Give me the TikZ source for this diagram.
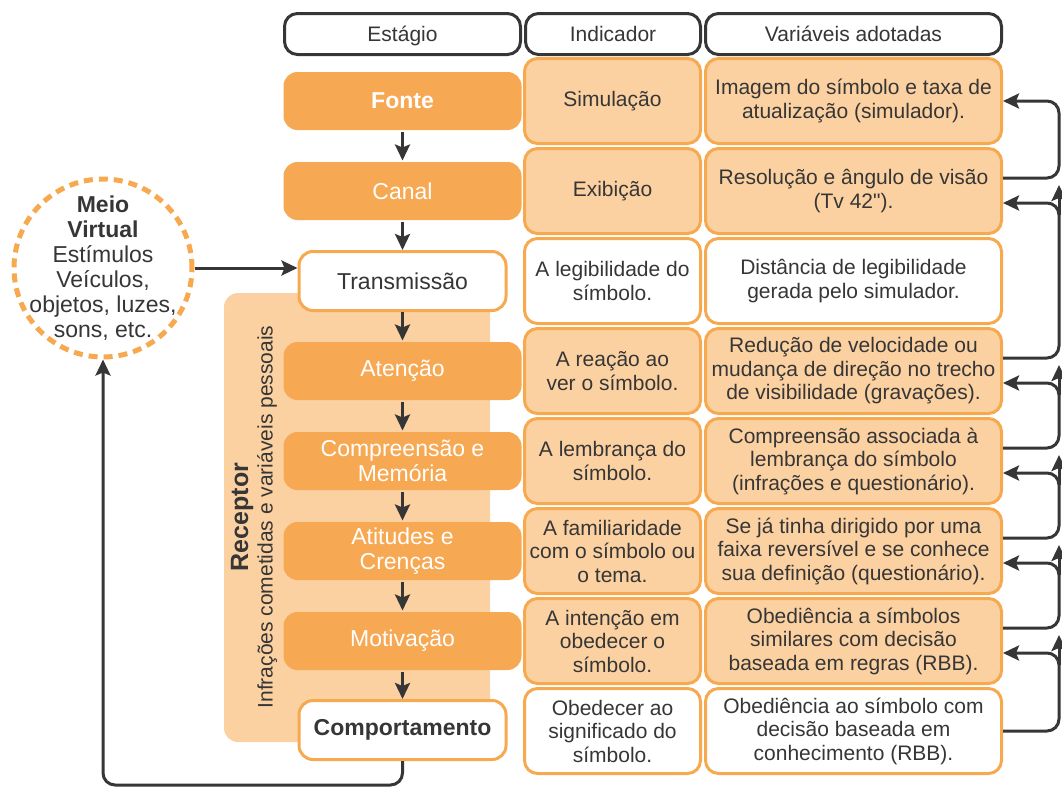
\documentclass[tikz,border=0pt]{standalone}
\usepackage{fontspec}
\setmainfont{Liberation Sans}
\newfontfamily\plainquote{Liberation Sans}
\usepackage{tikz}
\usetikzlibrary{arrows.meta, calc}
\definecolor{DarkOrange}{HTML}{F7A852}
\definecolor{LightOrange}{HTML}{FCD1A1}
\definecolor{EdgeOrange}{HTML}{F6A94F}
\definecolor{DarkGray}{HTML}{363636}

\begin{document}
\begin{tikzpicture}[x=1pt, y=-1pt, line width=3pt, >={Stealth[length=16pt, width=15pt, inset=3pt]},
		every node/.style={inner sep=0pt, align=center, text=DarkGray, font=\fontsize{21}{23.5}\selectfont},
		header/.style={draw=DarkGray, fill=white, rounded corners=13pt, minimum height=41pt, text height=15pt, text depth=0pt},
		stage/.style={fill=DarkOrange, text=white, rounded corners=14pt, minimum width=238pt, minimum height=58pt, font=\fontsize{23}{25}\selectfont},
		stagewhite/.style={draw=EdgeOrange, fill=white, rounded corners=14pt, minimum width=207pt, minimum height=59pt, font=\fontsize{23}{25}\selectfont},
		cell/.style={draw=EdgeOrange, fill=LightOrange, rounded corners=13pt, minimum height=85pt},
		ind/.style={cell, minimum width=176pt},
		var/.style={cell, minimum width=296pt},
		flow/.style={->, DarkGray}]
		\useasboundingbox (0,0) rectangle (1062,787);
		
		\node[header, minimum width=236pt] (hest) at (402.5,34) {Estágio};
		\node[header, minimum width=175pt] (hind) at (613,34) {Indicador};
		\node[header, minimum width=296pt] (hvar) at (853.5,34) {Variáveis adotadas};
		
		\fill[LightOrange, rounded corners=14pt] (224,293) rectangle (490,742);
		\node[rotate=90, font=\fontsize{25}{27}\selectfont\bfseries] (recep) at (242,517) {Receptor};
		\node[rotate=90] (infra) at (267,517) {Infrações cometidas e variáveis pessoais};
		
		\node[stage, font=\fontsize{23}{25}\selectfont\bfseries] (fonte) at (402.5,101) {Fonte};
		\node[stage] (canal) at (402.5,191) {Canal};
		\node[stagewhite] (trans) at (402.5,281) {Transmissão};
		\node[stage] (atenc) at (402.5,371) {Atenção};
		\node[stage] (compr) at (402.5,461) {Compreensão e\\Memória};
		\node[stage] (atit) at (402.5,551) {Atitudes e\\Crenças};
		\node[stage] (motiv) at (402.5,641) {Motivação};
		\node[stagewhite, font=\fontsize{23}{25}\selectfont\bfseries] (comp) at (402.5,730) {Comportamento};
		
		\draw[flow] (fonte) -- (canal);
		\draw[flow] (canal) -- (trans);
		\draw[flow] (trans) -- (atenc);
		\draw[flow] (atenc) -- (compr);
		\draw[flow] (compr) -- (atit);
		\draw[flow] (atit) -- (motiv);
		\draw[flow] (motiv) -- (comp);
		
		\node[ind] (i1) at (612.5,101) {Simulação};
		\node[ind] (i2) at (612.5,191) {Exibição};
		\node[ind, fill=white] (i3) at (612.5,281) {A legibilidade do\\símbolo.};
		\node[ind] (i4) at (612.5,371) {A reação ao\\ver o símbolo.};
		\node[ind] (i5) at (612.5,461) {A lembrança do\\símbolo.};
		\node[ind] (i6) at (612.5,551) {A familiaridade\\com o símbolo ou\\o tema.};
		\node[ind] (i7) at (612.5,641) {A intenção em\\obedecer o\\símbolo.};
		\node[ind, fill=white] (i8) at (612.5,731) {Obedecer ao\\significado do\\símbolo.};
		
		\node[var] (v1) at (853.5,101) {Imagem do símbolo e taxa de\\atualização (simulador).};
		\node[var] (v2) at (853.5,191) {Resolução e ângulo de visão\\(Tv 42{\plainquote"}).};
		\node[var, fill=white] (v3) at (853.5,281) {Distância de legibilidade\\gerada pelo simulador.};
		\node[var] (v4) at (853.5,371) {Redução de velocidade ou\\mudança de direção no trecho\\de visibilidade (gravações).};
		\node[var] (v5) at (853.5,461) {Compreensão associada à\\lembrança do símbolo\\(infrações e questionário).};
		\node[var] (v6) at (853.5,551) {Se já tinha dirigido por uma\\faixa reversível e se conhece\\sua definição (questionário).};
		\node[var] (v7) at (853.5,641) {Obediência a símbolos\\similares com decisão\\baseada em regras (RBB).};
		\node[var, fill=white] (v8) at (853.5,731) {Obediência ao símbolo com\\decisão baseada em\\conhecimento (RBB).};
		
		% feedback on the right
		\draw[flow, rounded corners=12pt] ($(v2.east)+(0,-13)$) -- ++(56,0) |- (v1.east);
		\draw[flow, rounded corners=12pt] ($(v4.east)+(0,-13)$) -- ++(56,0) |- ($(v2.east)+(0,12)$);
		\draw[flow, rounded corners=12pt] ($(v5.east)+(0,-13)$) -- ++(56,0) |- ($(v4.east)+(0,12)$);
		\draw[flow, rounded corners=12pt] ($(v6.east)+(0,-13)$) -- ++(56,0) |- ($(v5.east)+(0,12)$);
		\draw[flow, rounded corners=12pt] ($(v7.east)+(0,-13)$) -- ++(56,0) |- ($(v6.east)+(0,12)$);
		\draw[flow, rounded corners=12pt] (v8.east) -- ++(56,0) |- ($(v7.east)+(0,12)$);
		\draw[flow] ($(v2.east)+(56,24)$) -- ($(v2.east)+(56,-6)$);
		\draw[flow] ($(v4.east)+(56,24)$) -- ($(v4.east)+(56,-6)$);
		\draw[flow] ($(v5.east)+(56,24)$) -- ($(v5.east)+(56,-6)$);
		\draw[flow] ($(v6.east)+(56,24)$) -- ($(v6.east)+(56,-6)$);
		\draw[flow] ($(v7.east)+(56,24)$) -- ($(v7.east)+(56,-6)$);
		
		\node[circle, draw=EdgeOrange, line width=5pt, dash pattern=on 9pt off 6pt, fill=white, minimum size=178pt] (meio) at (103,268) {};
		\node[font=\fontsize{23}{25}\selectfont] (meiotxt) at (meio.center) {\textbf{Meio}\\\textbf{Virtual}\\Estímulos\\Veículos,\\objetos, luzes,\\sons, etc.};
		
		\draw[flow] (meio.east) -- (meio.east -| trans.west);
		\draw[flow, rounded corners=12pt] (comp.south) -- ++(0,24) -| (meio.south);
	\end{tikzpicture}
\end{document}
